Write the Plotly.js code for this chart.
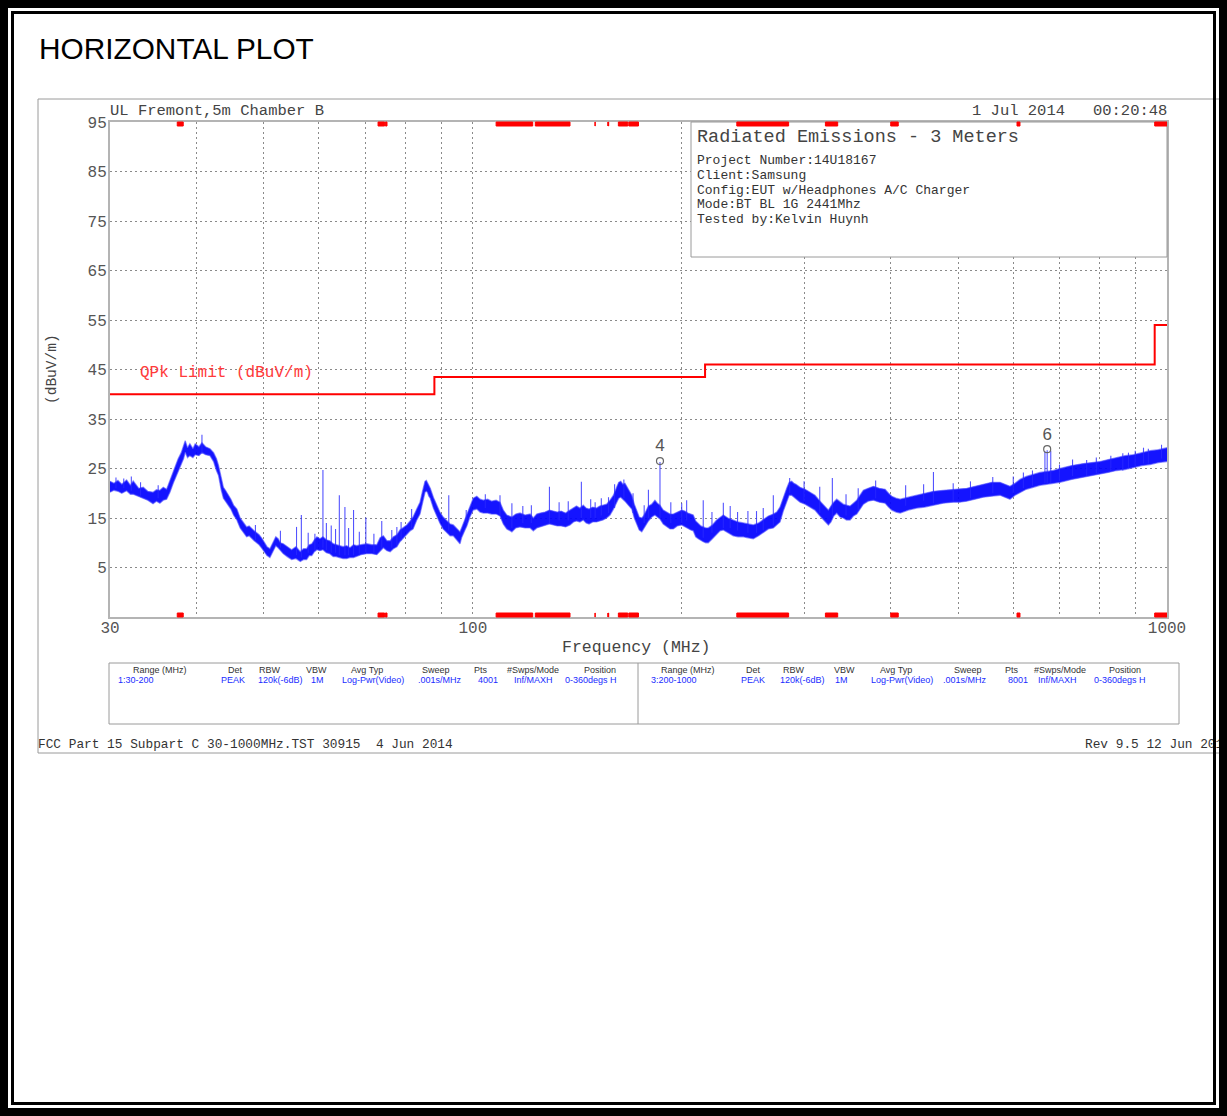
<!DOCTYPE html>
<html>
<head>
<meta charset="utf-8">
<script src="https://cdn.plot.ly/plotly-3.0.1.min.js"></script>
<style>
html,body{margin:0;padding:0;background:#fff;}
#wrap{position:relative;width:1227px;height:1116px;overflow:hidden;}
#chart{position:absolute;left:0;top:0;width:1227px;height:1116px;}
.bd{position:absolute;box-sizing:border-box;border-style:solid;border-color:#000;pointer-events:none;}
</style>
</head>
<body>
<div id="wrap">
<div id="chart"></div>
<div class="bd" style="left:0;top:0;width:1227px;height:1116px;border-width:8px;"></div>
<div class="bd" style="left:11px;top:11px;width:1205px;height:1094px;border-width:3px;"></div>
</div>
<script>
// ---------------- DATA ----------------
const freqMHz = [30.0,30.4,30.8,31.2,31.7,32.1,32.4,33.0,33.5,34.0,34.6,35.0,35.4,35.8,36.2,36.6,37.0,37.3,37.6,38.0,38.3,38.5,38.8,39.1,39.5,39.8,40.3,40.7,41.2,41.8,42.3,42.7,43.0,43.4,43.7,44.0,44.4,44.8,45.2,45.7,46.2,46.7,47.2,47.6,48.0,48.4,48.8,49.2,49.7,50.1,50.5,51.0,51.3,51.6,52.0,52.4,52.8,53.3,54.0,54.8,55.6,56.4,57.0,57.6,58.1,58.6,59.1,59.6,60.2,60.8,61.5,62.2,62.9,63.5,64.2,65.0,65.8,66.5,67.3,68.0,69.0,70.3,71.5,72.7,73.5,74.3,75.2,76.0,76.8,77.7,78.5,79.4,80.3,81.2,82.0,83.0,83.9,84.6,85.3,85.7,86.0,86.4,86.8,87.7,88.7,89.6,90.6,91.6,92.7,93.7,94.5,95.2,95.8,96.3,96.8,97.4,98.0,99.0,100.1,101.3,102.4,103.5,105.0,106.4,108.0,109.4,110.6,111.9,113.8,115.3,116.9,118.9,120.9,122.2,123.6,125.0,127.0,128.9,130.6,132.3,134.0,136.0,138.0,139.6,141.0,142.6,144.2,145.6,147.0,148.8,150.7,152.3,154.0,155.8,157.6,159.4,161.1,162.2,163.3,164.5,165.6,167.5,169.4,170.8,172.2,173.6,175.1,176.1,177.0,178.0,179.0,181.0,182.9,184.4,186.0,188.0,190.2,192.3,194.4,197.0,199.9,202.0,204.0,206.0,207.7,209.4,211.2,213.0,214.7,216.5,218.3,221.3,224.5,227.0,229.5,233.0,237.2,241.0,245.3,249.0,253.5,258.0,262.1,266.5,270.9,274.0,277.0,280.0,283.2,285.5,287.9,290.0,292.0,296.0,301.0,306.0,311.0,316.3,320.5,325.2,328.0,331.0,334.3,338.0,341.6,345.4,349.4,353.3,357.3,361.2,365.2,371.0,377.6,385.0,392.5,397.0,401.3,407.0,412.6,424.0,436.0,448.0,460.8,476.0,492.2,503.0,514.6,529.0,543.9,559.0,574.7,584.0,594.0,604.0,614.0,627.0,641.8,656.0,671.1,686.0,701.4,729.0,757.7,779.0,800.7,823.0,846.3,870.0,894.7,920.0,945.6,972.0,1000];
const levelHi = [22.4,22.0,22.6,21.8,22.7,21.6,22.5,21.0,21.2,20.4,20.2,20.7,20.6,21.2,20.8,22.6,24.3,25.4,26.9,28.2,29.6,30.6,29.2,30.0,29.0,30.0,29.4,30.2,29.4,29.0,28.2,27.0,25.6,23.0,21.2,20.6,19.8,18.8,17.6,16.8,15.0,14.2,13.2,13.4,12.8,12.4,12.0,11.6,10.8,10.0,9.2,8.8,9.6,10.2,11.2,10.8,10.0,9.8,9.2,8.6,9.2,8.2,8.8,8.8,9.6,9.8,10.6,11.2,10.8,11.2,10.6,10.4,9.8,9.6,9.4,9.2,9.4,9.0,9.6,9.4,9.6,9.8,9.6,9.6,11.0,11.4,10.4,10.4,11.2,11.6,12.6,13.2,13.6,14.4,15.2,16.8,18.2,20.4,22.4,22.6,22.2,21.6,21.0,19.2,17.4,16.2,15.2,14.6,13.8,13.6,13.0,12.6,12.2,13.0,13.8,14.8,15.8,17.4,19.0,19.4,18.8,18.6,18.8,18.4,18.6,18.2,16.6,15.6,15.2,15.8,16.0,15.6,15.8,15.0,15.8,16.0,16.2,16.6,16.4,16.2,16.4,16.0,16.6,17.0,17.4,17.0,17.6,17.0,16.8,17.2,17.0,17.4,17.6,17.8,18.6,19.6,21.2,22.2,22.4,21.8,22.0,20.8,19.6,17.8,16.6,15.2,15.0,15.4,16.0,16.6,17.4,17.8,18.6,18.0,17.6,16.6,16.2,15.8,15.8,16.2,16.6,16.4,16.0,15.8,15.6,14.4,13.8,13.4,13.2,13.0,13.0,13.6,14.6,15.2,15.6,15.0,14.6,14.2,14.0,13.8,13.6,14.0,14.6,15.4,15.8,16.2,17.2,19.2,21.0,22.2,22.4,22.0,21.8,21.2,20.8,20.2,19.6,18.4,17.6,16.6,17.4,18.2,18.8,18.2,17.8,17.6,17.4,18.0,18.6,19.6,20.6,21.0,21.4,21.0,20.8,20.0,19.4,19.0,18.8,19.2,19.6,20.0,20.4,20.6,20.8,20.8,21.0,21.4,21.8,22.2,22.2,21.8,21.4,22.0,22.8,23.4,23.8,24.2,24.4,24.6,25.0,25.6,26.0,26.2,26.4,26.8,27.2,27.6,27.8,28.2,28.6,28.8,29.2];
const levelLo = [20.2,20.6,20.4,20.0,20.5,19.8,19.8,19.3,19.0,18.6,17.9,18.4,18.0,18.6,18.8,20.2,22.0,23.2,24.5,25.8,27.0,28.3,27.2,27.6,27.2,27.8,27.6,28.2,27.8,27.6,26.4,24.6,23.6,20.6,19.0,18.4,17.6,16.8,15.6,14.6,13.0,12.0,11.2,11.4,10.8,10.4,10.0,9.6,8.8,8.0,7.4,7.0,7.8,8.4,9.4,9.0,8.4,7.8,7.2,6.6,6.8,6.2,6.6,6.6,7.4,7.4,8.2,8.6,8.4,8.6,8.0,7.8,7.2,7.2,7.0,6.8,6.8,7.0,7.0,7.2,7.6,7.8,7.8,7.6,8.4,9.0,8.4,8.2,8.8,9.2,10.2,11.0,11.6,12.4,12.8,14.6,15.8,18.2,20.2,20.4,20.2,19.4,19.0,17.0,15.2,14.0,12.8,12.2,11.4,11.4,10.8,10.2,9.8,11.0,11.6,12.6,13.4,15.2,16.6,16.8,16.2,16.0,16.0,15.8,15.8,15.4,13.8,12.8,12.2,13.0,13.2,13.0,13.0,12.4,13.0,13.2,13.4,13.8,13.6,13.4,13.4,13.2,13.6,14.2,14.4,14.2,14.6,14.0,13.8,14.2,14.2,14.4,14.6,15.0,15.6,16.8,18.2,19.0,19.2,18.8,18.4,17.6,16.8,15.0,13.8,12.6,12.2,12.8,13.4,14.0,14.4,15.2,15.6,15.2,14.8,13.8,13.2,12.8,12.8,13.4,13.6,13.2,13.0,12.6,12.4,11.2,10.8,10.4,10.2,10.0,10.0,10.8,11.6,12.4,12.6,12.0,11.4,11.2,11.2,11.0,10.8,11.4,12.0,12.8,13.0,13.6,14.2,16.4,18.2,19.6,19.6,19.2,19.0,18.2,17.8,17.2,16.6,15.4,14.6,13.6,14.2,15.4,16.0,15.2,15.0,14.6,14.6,15.4,15.8,16.8,17.8,18.4,18.6,18.2,18.0,17.2,16.6,16.2,16.0,16.6,17.0,17.2,17.6,18.0,18.2,18.2,18.4,18.8,19.2,19.4,19.6,19.2,18.8,19.6,20.2,20.8,21.2,21.6,21.8,22.0,22.2,22.8,23.2,23.6,23.8,24.2,24.6,24.8,25.2,25.6,25.8,26.2,26.4];

const spikeFreq = [30.6,31.4,32.2,33.2,35.2,40.7,48.6,52.8,55.7,56.6,57.9,59.2,60.8,61.5,62.5,63.4,64.2,65.4,66.2,67.3,68.6,70.1,72.0,73.9,76.4,77.7,78.8,81.6,92.3,97.8,104.2,109.4,113.8,118.0,121.4,128.9,133.1,137.2,143.3,147.8,150.0,153.1,156.8,160.0,165.0,170.1,176.5,179.0,186.0,192.8,199.9,203.2,214.7,221.0,229.5,234.8,240.6,249.0,256.2,262.0,270.9,286.0,300.0,316.0,329.5,344.8,359.0,380.4,420.2,446.0,460.8,492.0,521.0,561.0,600.5,621.0,640.0,667.0,672.0,680.0,700.0,731.0,766.0,791.0,830.0,863.6,880.0,900.0,925.0,940.0,982.0];
const spikeBase = [21.0,21.0,20.5,19.5,19.0,28.0,10.5,9.0,7.5,7.0,8.0,8.5,9.0,8.5,8.0,8.0,7.5,7.5,7.5,7.5,7.8,8.0,8.0,9.0,9.0,9.5,10.5,13.0,12.5,14.0,17.0,15.5,13.0,14.0,14.0,14.0,14.5,14.5,15.0,15.0,15.0,15.5,16.0,17.0,19.0,16.0,14.0,15.0,15.0,14.0,14.0,14.5,11.0,12.0,13.0,13.0,12.5,12.0,12.0,12.5,13.5,20.0,18.5,16.0,15.0,15.5,16.5,19.0,17.5,18.5,18.0,18.5,19.0,20.0,20.0,21.0,21.5,22.0,22.0,22.0,22.5,23.5,23.5,24.0,24.5,24.6,25.0,25.5,26.0,26.0,27.0];
const spikeTop = [23.2,23.0,23.4,22.2,21.6,31.8,13.6,12.4,13.2,15.6,12.0,11.8,24.7,14.0,13.5,12.8,19.6,17.2,13.0,16.6,12.2,15.1,11.8,14.4,12.6,13.2,14.2,16.8,19.6,16.6,19.8,19.6,18.0,17.4,17.6,21.3,18.2,18.4,22.3,18.8,18.2,19.0,19.2,21.8,22.8,20.0,17.6,20.7,26.3,18.2,18.0,18.6,18.6,16.2,18.1,17.4,16.2,16.4,16.4,17.0,19.6,23.1,22.4,21.3,23.1,19.8,21.0,22.6,21.6,21.8,24.3,22.0,22.4,23.3,23.4,24.2,24.6,28.5,28.7,28.6,25.8,26.8,26.7,27.2,27.6,28.1,28.2,28.6,29.2,29.0,29.8];

const limitFreq = [30, 88, 216, 960, 1000];
const limitLevel = [40, 43.5, 46, 54, 54];

const markerFreq = [186.0, 672.0];
const markerLevel = [26.5, 28.9];
const markerLabel = ['4', '6'];

const bandStart = [37.5, 73, 74.8, 108, 123, 149.9, 156.52475, 156.7, 162.0125, 167.72, 240, 322, 399.9, 608, 960];
const bandEnd   = [38.25, 74.6, 75.2, 121.94, 138, 150.05, 156.52525, 156.9, 167.17, 173.2, 285, 335.4, 410, 614, 1000];

const xTickVals = [30,40,50,60,70,80,90,100,200,300,400,500,600,700,800,900,1000];
const xTickText = ['30','','','','','','','100','','','','','','','','','1000'];
const yTickVals = [5,15,25,35,45,55,65,75,85,95];

const pageTitle = 'HORIZONTAL PLOT';
const siteText = 'UL Fremont,5m Chamber B';
const dateText = '1 Jul 2014   00:20:48';
const infoTitle = 'Radiated Emissions - 3 Meters';
const infoLines = ['Project Number:14U18167','Client:Samsung','Config:EUT w/Headphones A/C Charger','Mode:BT BL 1G 2441Mhz','Tested by:Kelvin Huynh'];
const limitLabel = 'QPk Limit (dBuV/m)';
const xTitle = 'Frequency (MHz)';
const yTitle = '(dBuV/m)';
const tableHeaders = ['Range (MHz)','Det','RBW','VBW','Avg Typ','Sweep','Pts','#Swps/Mode','Position'];
const tableRowA = ['1:30-200','PEAK','120k(-6dB)','1M','Log-Pwr(Video)','.001s/MHz','4001','Inf/MAXH','0-360degs H'];
const tableRowB = ['3:200-1000','PEAK','120k(-6dB)','1M','Log-Pwr(Video)','.001s/MHz','8001','Inf/MAXH','0-360degs H'];
const footLeft = 'FCC Part 15 Subpart C 30-1000MHz.TST 30915  4 Jun 2014';
const footRight = 'Rev 9.5 12 Jun 2014';

// ---------------- LAYOUT HELPERS ----------------
const L = 110, R = 1167, T = 122, B = 617;
const W = R - L, H = B - T;
const PX = p => (p - L) / W;
const PY = p => (B - p) / H;
const MONO = 'Liberation Mono, DejaVu Sans Mono, monospace';
const SANS = 'Liberation Sans, Arial, sans-serif';

const ann = [];
function txt(text, px, py, size, color, opts) {
  ann.push(Object.assign({
    text: text, xref: 'paper', yref: 'paper', x: PX(px), y: PY(py),
    xanchor: 'left', yanchor: 'middle', showarrow: false,
    font: {family: MONO, size: size, color: color}, borderpad: 0
  }, opts || {}));
}
txt(pageTitle, 38, 49, 29.8, '#000', {font: {family: SANS, size: 29.8, color: '#000'}});
txt(siteText, 109, 111, 15.5, '#444');
txt(dateText, 1168, 111, 15.5, '#444', {xanchor: 'right'});
txt(infoTitle, 696, 137, 18.5, '#444');
infoLines.forEach((s, i) => txt(s, 696, 161 + i * 14.5, 13, '#333'));
txt(limitLabel, 139, 373, 16, '#ff3a3a');
txt(xTitle, 636, 647, 16.5, '#444', {xanchor: 'center'});
txt(yTitle, 52, 369, 14.5, '#444', {xanchor: 'center', textangle: -90});

const hdrA = [160,235,270,316,367,436,481,533,600];
const hdrB = [688,753,794,844,896,968,1012,1060,1125];
const datA = [117,233,280,317,373,440,488,533,591];
const datB = [650,753,802,841,902,965,1018,1057,1120];
tableHeaders.forEach((s, i) => {
  txt(s, hdrA[i], 670, 9, '#333', {xanchor: 'center', font: {family: SANS, size: 9, color: '#333'}});
  txt(s, hdrB[i], 670, 9, '#333', {xanchor: 'center', font: {family: SANS, size: 9, color: '#333'}});
});
tableRowA.forEach((s, i) => txt(s, datA[i], 680, 9, '#1a2cff', {xanchor: i === 0 ? 'left' : 'center', font: {family: SANS, size: 9, color: '#1a2cff'}}));
tableRowB.forEach((s, i) => txt(s, datB[i], 680, 9, '#1a2cff', {xanchor: i === 0 ? 'left' : 'center', font: {family: SANS, size: 9, color: '#1a2cff'}}));
txt(footLeft, 37, 744, 12.8, '#333');
txt(footRight, 1084, 744, 12.8, '#333');

const shapes = [];
// outer gray frame
shapes.push({type: 'rect', xref: 'paper', yref: 'paper', x0: PX(38), x1: PX(1260), y0: PY(753), y1: PY(99), line: {color: '#9a9a9a', width: 1}, layer: 'below'});
// info box
shapes.push({type: 'rect', xref: 'paper', yref: 'paper', x0: PX(691), x1: 1, y0: PY(257), y1: 1, fillcolor: '#fff', line: {color: '#9a9a9a', width: 1}, layer: 'above'});
// table box + divider
shapes.push({type: 'rect', xref: 'paper', yref: 'paper', x0: PX(109), x1: PX(1179), y0: PY(724), y1: PY(663), line: {color: '#9a9a9a', width: 1}});
shapes.push({type: 'line', xref: 'paper', yref: 'paper', x0: PX(638), x1: PX(638), y0: PY(724), y1: PY(663), line: {color: '#9a9a9a', width: 1}});
// restricted-band marks (top and bottom edges)
const mk = 4 / H;
bandStart.forEach((f0, i) => {
  const f1 = bandEnd[i];
  shapes.push({type: 'rect', xref: 'x', yref: 'paper', x0: f0, x1: f1, y0: 1 - mk, y1: 1, fillcolor: '#ff0000', line: {color: '#ff0000', width: 1}, layer: 'above'});
  shapes.push({type: 'rect', xref: 'x', yref: 'paper', x0: f0, x1: f1, y0: 0, y1: mk, fillcolor: '#ff0000', line: {color: '#ff0000', width: 1}, layer: 'above'});
});

// ---------------- TRACES ----------------
const spikeX = [], spikeY = [];
spikeFreq.forEach((f, i) => { spikeX.push(f, f, null); spikeY.push(spikeBase[i], spikeTop[i], null); });

const traces = [
  {x: freqMHz, y: levelLo, type: 'scatter', mode: 'lines', line: {color: 'rgba(80,80,255,0.6)', width: 1.3}, hoverinfo: 'skip'},
  {x: freqMHz, y: levelHi, type: 'scatter', mode: 'lines', fill: 'tonexty', fillcolor: 'rgba(0,0,255,0.92)', line: {color: 'rgba(80,80,255,0.6)', width: 1.3}, hoverinfo: 'skip'},
  {x: spikeX, y: spikeY, type: 'scatter', mode: 'lines', line: {color: 'rgba(40,40,255,0.8)', width: 1.1}, connectgaps: false, hoverinfo: 'skip'},
  {x: limitFreq, y: limitLevel, type: 'scatter', mode: 'lines', line: {color: '#ff0000', width: 2, shape: 'hv'}, hoverinfo: 'skip'},
  {x: markerFreq, y: markerLevel, type: 'scatter', mode: 'markers+text', text: markerLabel, textposition: 'top center',
   textfont: {family: SANS, size: 17, color: '#555'}, marker: {symbol: 'circle-open', size: 7, color: '#666', line: {width: 1.2, color: '#666'}}, cliponaxis: false, hoverinfo: 'skip'}
];

const axisCommon = {
  showgrid: true, gridcolor: '#8a8a8a', gridwidth: 1, griddash: '2px,3px',
  showline: true, linecolor: '#b4b4b4', linewidth: 2, mirror: true,
  zeroline: false, ticks: '', tickfont: {family: MONO, size: 16, color: '#555'}, fixedrange: true
};

const layout = {
  width: 1227, height: 1116, autosize: false,
  margin: {l: L, r: 1227 - R, t: T, b: 1116 - B, pad: 0},
  paper_bgcolor: '#fff', plot_bgcolor: '#fff',
  showlegend: false, hovermode: false,
  xaxis: Object.assign({}, axisCommon, {type: 'log', range: [Math.log10(30), 3], tickmode: 'array', tickvals: xTickVals, ticktext: xTickText, ticklabelstandoff: -5}),
  yaxis: Object.assign({}, axisCommon, {range: [-5, 95], tickmode: 'array', tickvals: yTickVals, ticktext: yTickVals.map(String), ticklabelstandoff: -2}),
  annotations: ann,
  shapes: shapes
};

Plotly.newPlot('chart', traces, layout, {displayModeBar: false, staticPlot: true});
</script>
</body>
</html>
